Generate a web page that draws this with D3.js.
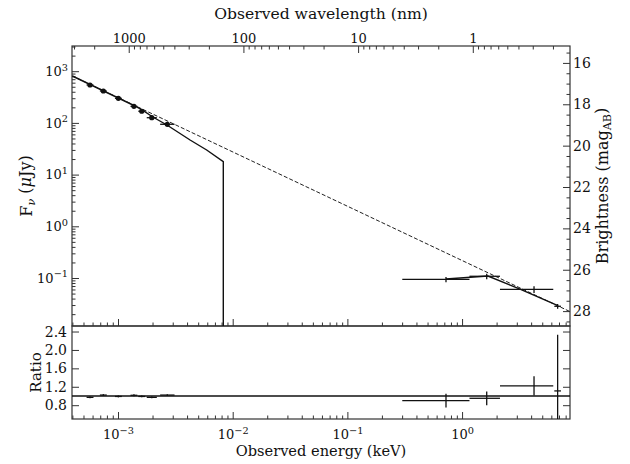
<!DOCTYPE html>
<html><head><meta charset="utf-8">
<script src="https://cdn.jsdelivr.net/npm/d3@7"></script>
<style>body{margin:0;background:#fff} svg text{font-family:"DejaVu Serif","Liberation Serif",serif;fill:#111}</style>
</head><body><svg id="c" width="630" height="464" font-family="DejaVu Serif, Liberation Serif, serif"></svg>
<script>
// ---- data (energy in keV, flux density in μJy) ----
const optE   = [5.70e-4, 7.45e-4, 1.007e-3, 1.377e-3, 1.61e-3, 1.97e-3, 2.69e-3];
const optElo = [5.32e-4, 6.95e-4, 9.40e-4, 1.285e-3, 1.503e-3, 1.78e-3, 2.33e-3];
const optEhi = [6.11e-4, 7.98e-4, 1.079e-3, 1.475e-3, 1.725e-3, 2.18e-3, 3.11e-3];
const optF   = [541, 414, 299, 209, 168, 126, 94];
const optFerr= [14, 10, 7, 5, 4, 3, 2.5];
const optRatio    = [0.97, 1.02, 0.99, 1.015, 0.99, 0.97, 1.02];
const optRatioErr = [0.02, 0.02, 0.02, 0.02, 0.02, 0.02, 0.02];

const xrE    = [0.724, 1.64, 4.24, 6.81];
const xrElo  = [0.301, 1.16, 2.14, 6.37];
const xrEhi  = [1.16, 2.14, 6.24, 7.28];
const xrF    = [0.094, 0.108, 0.0605, 0.0284];
const xrFerr = [0.011, 0.013, 0.009, 0.003];
const xrRatio    = [0.90, 0.95, 1.22, 1.11];
const xrRatioErr = [0.15, 0.15, 0.21, 1.22];

// power law (dashed) and absorbed model (solid)
const plE = [4.0e-4, 8.7];
const plF = [807, 0.0225];
const modOptE = [4.0e-4, 1.377e-3, 1.65e-3, 1.977e-3, 2.67e-3, 4.25e-3, 5.93e-3, 8.28e-3, 8.28e-3];
const modOptF = [807, 217, 174, 133, 91, 46.7, 29.9, 17.8, 0.001];
const modXrE = [0.724, 1.68, 3.2, 6.85];
const modXrF = [0.0957, 0.109, 0.0612, 0.0291];

const ratioTicks = [0.8, 1.2, 1.6, 2.0, 2.4];
const magTicks = [16, 18, 20, 22, 24, 26, 28];
const lamTicks = [1000, 100, 10, 1];

// ---- layout ----
const L=72, R=570, T=46, M=326, B=419;
const FONT = "DejaVu Serif, Liberation Serif, serif";
const svg = d3.select("#c");
const x  = d3.scaleLog().domain([3.97e-4, 8.73]).range([L, R]);
const y  = d3.scaleLog().domain([0.0118, 3070]).range([M, T]);
const yr = d3.scaleLinear().domain([0.5, 2.52]).range([B, M]);
const hc = 1.23984; // keV nm
const xl = d3.scaleLog().domain([hc/8.73, hc/3.97e-4]).range([R, L]);
const magOf = f => 23.9 - 2.5*Math.log10(f);
const ym = d3.scaleLinear().domain([magOf(3070), magOf(0.0118)]).range([T, M]);

const isMajor = v => Math.abs(Math.log10(v) - Math.round(Math.log10(v))) < 1e-6;
const supFmt = function(d){
  const t = d3.select(this), e = Math.round(Math.log10(d));
  t.text("10");
  t.append("tspan").attr("dy","-0.55em").attr("font-size","0.75em").text(e<0 ? "\u2212"+(-e) : String(e));
};
function styleAxis(g, fs){
  g.select(".domain").remove();
  g.attr("font-family", FONT).attr("font-size", null);
  g.selectAll(".tick line").attr("stroke", "#333");
  g.selectAll(".tick text").attr("font-size", fs || 13).attr("fill", "#111");
}

// clip
svg.append("defs").append("clipPath").attr("id","cp").append("rect").attr("x",L).attr("y",T).attr("width",R-L).attr("height",M-T);
svg.append("defs").append("clipPath").attr("id","cp2").append("rect").attr("x",L).attr("y",M).attr("width",R-L).attr("height",B-M);

// ---- axes: energy ----
const xt = x.ticks();
const xMaj = xt.filter(isMajor), xMin = xt.filter(v=>!isMajor(v));
[M, B].forEach(yy=>{
  svg.append("g").attr("transform",`translate(0,${yy})`).call(d3.axisBottom(x).tickValues(xMin).tickSize(-3.5).tickFormat("")).call(styleAxis);
  const g = svg.append("g").attr("transform",`translate(0,${yy})`).call(d3.axisBottom(x).tickValues(xMaj).tickSize(-7).tickPadding(11).tickFormat(yy===B? (d=>"10"):"")).call(styleAxis);
  if (yy===B) g.selectAll(".tick text").each(supFmt);
});
// wavelength (top)
const lt = xl.ticks().filter(v=>xl(v)>=L && xl(v)<=R);
svg.append("g").attr("transform",`translate(0,${T})`).call(d3.axisTop(xl).tickValues(lt.filter(v=>!isMajor(v))).tickSize(-3.5).tickFormat("")).call(styleAxis);
svg.append("g").attr("transform",`translate(0,${T})`).call(d3.axisTop(xl).tickValues(lamTicks).tickSize(-7).tickPadding(3).tickFormat(d3.format("d"))).call(styleAxis);

// flux (left)
const yt = y.ticks();
svg.append("g").attr("transform",`translate(${L},0)`).call(d3.axisLeft(y).tickValues(yt.filter(v=>!isMajor(v))).tickSize(-3.5).tickFormat("")).call(styleAxis);
const gy = svg.append("g").attr("transform",`translate(${L},0)`).call(d3.axisLeft(y).tickValues(yt.filter(isMajor)).tickSize(-7).tickPadding(4).tickFormat(()=>"10")).call(styleAxis);
gy.selectAll(".tick text").each(supFmt);

// magnitude (right)
const magMinor = d3.range(15.5, 29, 0.5).filter(v=>v%2!==0 && ym(v)>=T && ym(v)<=M);
svg.append("g").attr("transform",`translate(${R},0)`).call(d3.axisRight(ym).tickValues(magMinor).tickSize(-3.5).tickFormat("")).call(styleAxis);
svg.append("g").attr("transform",`translate(${R},0)`).call(d3.axisRight(ym).tickValues(magTicks).tickSize(-7).tickPadding(3).tickFormat(d3.format("d"))).call(g=>styleAxis(g,14));

// ratio
svg.append("g").attr("transform",`translate(${L},0)`).call(d3.axisLeft(yr).tickValues(ratioTicks).tickSize(-7).tickPadding(5).tickFormat(d3.format(".1f"))).call(g=>styleAxis(g,14));
svg.append("g").attr("transform",`translate(${R},0)`).call(d3.axisRight(yr).tickValues(ratioTicks).tickSize(-7).tickFormat("")).call(styleAxis);

// frames
svg.append("rect").attr("x",L).attr("y",T).attr("width",R-L).attr("height",M-T).attr("fill","none").attr("stroke","#333").attr("stroke-width",1.2);
svg.append("rect").attr("x",L).attr("y",M).attr("width",R-L).attr("height",B-M).attr("fill","none").attr("stroke","#333").attr("stroke-width",1.2);

// ---- top panel marks ----
const gTop = svg.append("g").attr("clip-path","url(#cp)");
const line = d3.line().x(d=>x(d[0])).y(d=>y(d[1]));
gTop.append("path").attr("d", line(d3.zip(plE, plF))).attr("fill","none").attr("stroke","#222").attr("stroke-width",1).attr("stroke-dasharray","4,2");
gTop.append("path").attr("d", line(d3.zip(modOptE, modOptF))).attr("fill","none").attr("stroke","#111").attr("stroke-width",1.4);
gTop.append("path").attr("d", line(d3.zip(modXrE, modXrF))).attr("fill","none").attr("stroke","#111").attr("stroke-width",1.4);

function errBars(g, E, Elo, Ehi, V, Verr, ys){
  E.forEach((e,i)=>{
    g.append("line").attr("x1",x(Elo[i])).attr("x2",x(Ehi[i])).attr("y1",ys(V[i])).attr("y2",ys(V[i])).attr("stroke","#111").attr("stroke-width",1.3);
    g.append("line").attr("x1",x(e)).attr("x2",x(e)).attr("y1",ys(Math.max(V[i]-Verr[i],1e-9))).attr("y2",ys(V[i]+Verr[i])).attr("stroke","#111").attr("stroke-width",1.3);
  });
}
errBars(gTop, optE, optElo, optEhi, optF, optFerr, y);
errBars(gTop, xrE, xrElo, xrEhi, xrF, xrFerr, y);
gTop.selectAll("circle.o").data(d3.zip(optE,optF)).join("circle").attr("cx",d=>x(d[0])).attr("cy",d=>y(d[1])).attr("r",2.6).attr("fill","#111");

// ---- ratio panel ----
const gBot = svg.append("g").attr("clip-path","url(#cp2)");
gBot.append("line").attr("x1",L).attr("x2",R).attr("y1",yr(1)).attr("y2",yr(1)).attr("stroke","#111").attr("stroke-width",1.4);
errBars(gBot, optE, optElo, optEhi, optRatio, optRatioErr, yr);
errBars(gBot, xrE, xrElo, xrEhi, xrRatio, xrRatioErr, yr);

// ---- labels ----
svg.append("text").attr("x",(L+R)/2).attr("y",19).attr("text-anchor","middle").attr("font-size",15.6).text("Observed wavelength (nm)");
svg.append("text").attr("x",(L+R)/2).attr("y",456).attr("text-anchor","middle").attr("font-size",14.6).text("Observed energy (keV)");
const fl = svg.append("text").attr("transform",`translate(32,${(T+M)/2}) rotate(-90)`).attr("text-anchor","middle").attr("font-size",16);
fl.append("tspan").text("F");
fl.append("tspan").attr("dy","0.3em").attr("font-size","0.7em").attr("font-style","italic").text("\u03bd");
fl.append("tspan").attr("dy","-0.3em").text(" (");
fl.append("tspan").attr("font-style","italic").text("\u03bc");
fl.append("tspan").text("Jy)");
svg.append("text").attr("transform",`translate(41,${(M+B)/2}) rotate(-90)`).attr("text-anchor","middle").attr("font-size",15).text("Ratio");
const bl = svg.append("text").attr("transform",`translate(608,${(T+M)/2}) rotate(-90)`).attr("text-anchor","middle").attr("font-size",16);
bl.append("tspan").text("Brightness (mag");
bl.append("tspan").attr("dy","0.3em").attr("font-size","0.7em").text("AB");
bl.append("tspan").attr("dy","-0.3em").text(")");
</script></body></html>
